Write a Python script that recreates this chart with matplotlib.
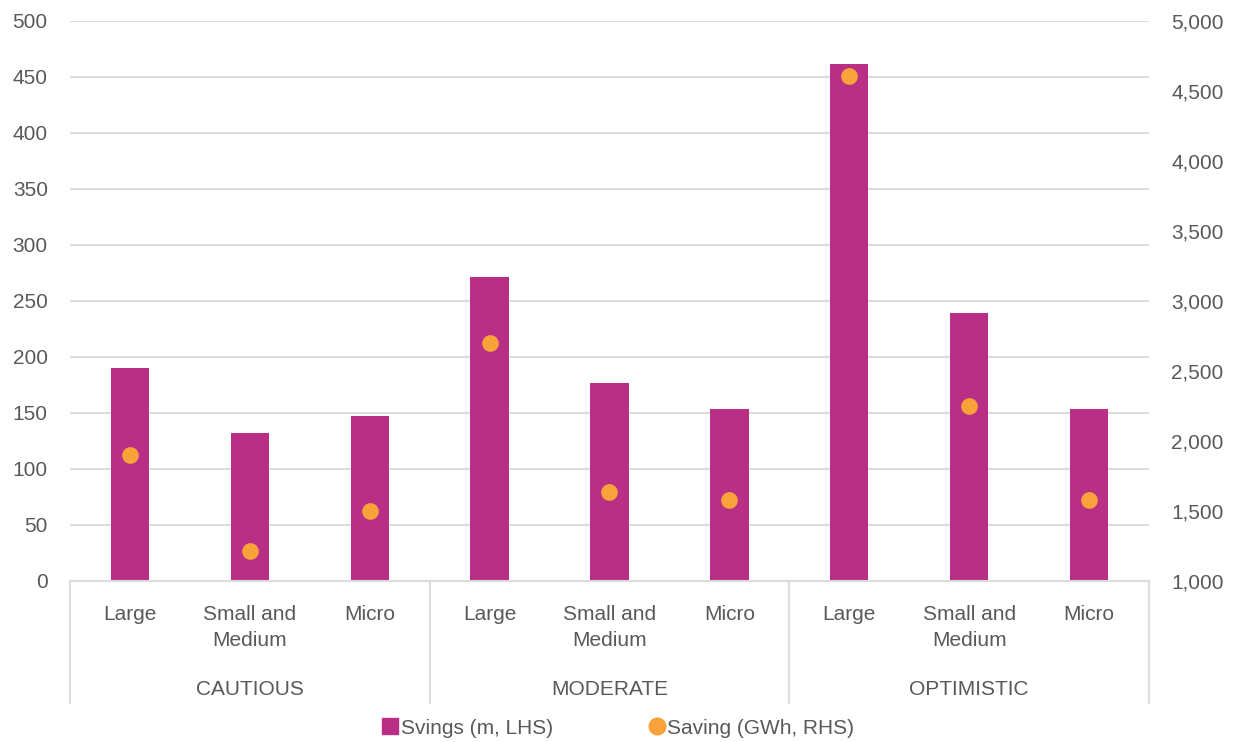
import matplotlib.pyplot as plt
import numpy as np
from matplotlib.lines import Line2D
from matplotlib.ticker import FuncFormatter, MultipleLocator

plt.rcParams['font.family'] = ['Liberation Sans', 'DejaVu Sans']

# datos por escenario y tamaño de empresa
escenarios = ['CAUTIOUS', 'MODERATE', 'OPTIMISTIC']
tamanos = ['Large', 'Small and\nMedium', 'Micro']
svings = [190, 132, 147, 271, 177, 154, 462, 239, 154]          # m, eje izq
saving = [1900, 1215, 1500, 2700, 1635, 1580, 4605, 2250, 1575]  # GWh, eje der

gris = '#595959'
magenta = '#B82F85'
naranja = '#F8A23A'
fs = 15

fig = plt.figure(figsize=(12.34, 7.42), dpi=100)
ax = fig.add_axes([70/1234, 161/742, 1079/1234, 560/742])
ax2 = ax.twinx()

x = np.arange(len(svings))
ax.bar(x, svings, width=0.32, color=magenta, zorder=2)
ax2.plot(x, saving, 'o', color=naranja, markersize=11, zorder=3)

ax.set_xlim(-0.5, len(svings) - 0.5)
ax.set_ylim(0, 500)
ax2.set_ylim(1000, 5000)
ax.yaxis.set_major_locator(MultipleLocator(50))
ax2.yaxis.set_major_locator(MultipleLocator(500))
ax2.yaxis.set_major_formatter(FuncFormatter(lambda v, p: f'{v:,.0f}'))

ax.grid(axis='y', color='#dcdcdc', lw=1.5, zorder=0)
ax.set_axisbelow(True)
for a in (ax, ax2):
    for s in a.spines.values():
        s.set_visible(False)
    a.tick_params(length=0, labelsize=fs, colors=gris)
ax.tick_params(axis='y', pad=16)
ax2.tick_params(axis='y', pad=16)
ax.set_xticks([])

# eje de categorias con dos niveles
ax.plot([0, 1], [0, 0], transform=ax.transAxes, color='#dcdcdc', lw=1.5, clip_on=False)
for k in range(len(escenarios) + 1):
    xs = k / len(escenarios)
    ax.plot([xs, xs], [0, -0.217], transform=ax.transAxes, color='#dcdcdc',
            lw=1.5, clip_on=False)
trans = ax.get_xaxis_transform()
for i, xi in enumerate(x):
    ax.text(xi, -0.043, tamanos[i % 3], transform=trans, ha='center', va='top',
            fontsize=fs, color=gris, linespacing=1.45)
for j, nombre in enumerate(escenarios):
    ax.text(3 * j + 1, -0.193, nombre, transform=trans, ha='center', va='center',
            fontsize=fs, color=gris)

handles = [Line2D([], [], marker='s', ls='none', color=magenta, markersize=12),
           Line2D([], [], marker='o', ls='none', color=naranja, markersize=12)]
fig.legend(handles, ['Svings (m, LHS)', 'Saving (GWh, RHS)'], loc='center',
           bbox_to_anchor=(0.5, 14/742), ncol=2, frameon=False, fontsize=fs,
           labelcolor=gris, handletextpad=0.0, columnspacing=4.5, handlelength=1.0)

fig.savefig('out.png', dpi=100)
